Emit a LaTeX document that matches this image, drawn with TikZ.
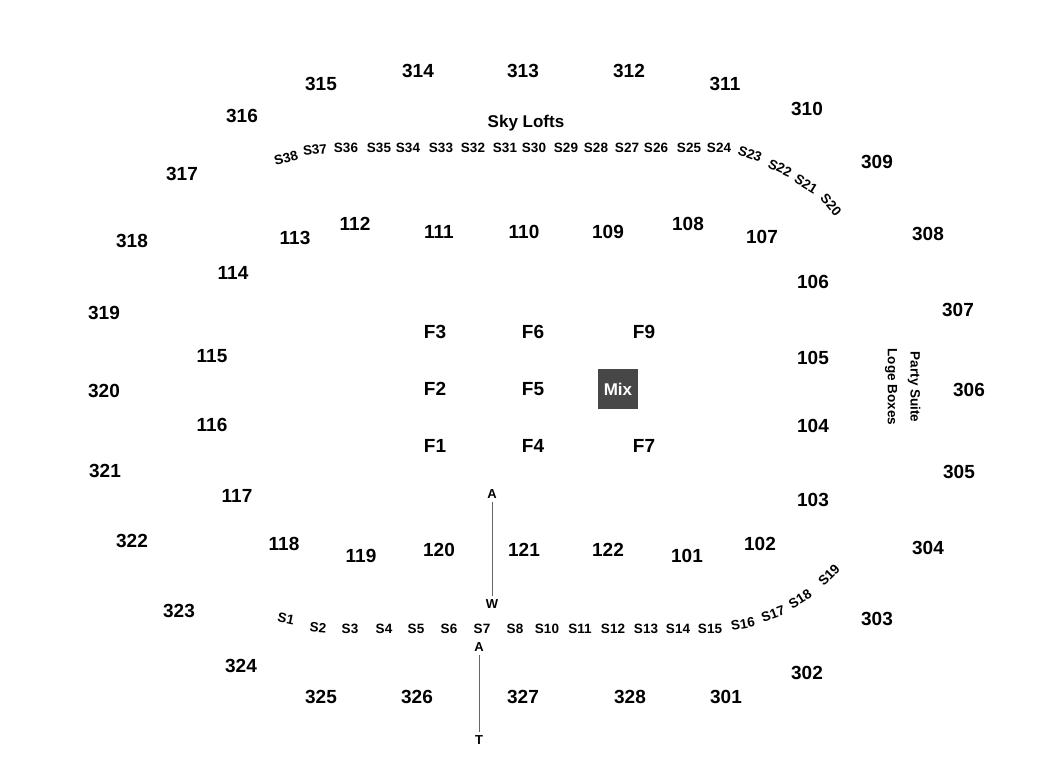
\documentclass[tikz,border=0pt]{standalone}
\usepackage{fontspec}
\setmainfont{Liberation Sans}
\usepackage{tikz}

\begin{document}
\begin{tikzpicture}
	[%
	x=1pt, y=-1pt,%
	sec/.style  ={font=\fontsize{19}{19}\selectfont\bfseries,	inner sep=0pt},%
	field/.style={font=\fontsize{19}{19}\selectfont\bfseries,	inner sep=0pt},%
	loft/.style ={font=\fontsize{13.5}{13.5}\selectfont\bfseries,	inner sep=0pt},%
	tag/.style  ={font=\fontsize{13}{13}\selectfont\bfseries,	inner sep=3pt},%
	mix/.style  ={rectangle,	fill=black!72,	text=white,	minimum size=40pt,	inner sep=0pt,	font=\fontsize{17}{17}\selectfont\bfseries},%
	aisle/.style={draw=black!60,	line width=0.8pt},%
	]

	\useasboundingbox (0,0) rectangle (1050,782);

	% upper ring
	\foreach \n/\x/\y in {315/321/84, 314/418/71, 313/523/71, 312/629/71, 311/725/84, 310/807/109, 309/877/162, 308/928/234, 307/958/310, 306/969/390, 305/959/472, 304/928/548, 303/877/619, 302/807/673, 301/726/697, 328/630/697, 327/523/697, 326/417/697, 325/321/697, 324/241/666, 323/179/611, 322/132/541, 321/105/471, 320/104/391, 319/104/313, 318/132/241, 317/182/174, 316/242/116}
		\node (s\n) at (\x,\y) [sec] {\n};

	% lower ring
	\foreach \n/\x/\y in {113/295/238, 112/355/224, 111/439/232, 110/524/232, 109/608/232, 108/688/224, 107/762/237, 106/813/282, 105/813/358, 104/813/426, 103/813/500, 102/760/544, 101/687/556, 122/608/550, 121/524/550, 120/439/550, 119/361/556, 118/284/544, 117/237/496, 116/212/425, 115/212/356, 114/233/273}
		\node (s\n) at (\x,\y) [sec] {\n};

	% floor
	\foreach \n/\x/\y in {3/435/332, 6/533/332, 9/644/332, 2/435/389, 5/533/389, 1/435/446, 4/533/446, 7/644/446}
		\node (f\n) at (\x,\y) [field] {F\n};
	\node (mix) at (618,389) [mix] {Mix};

	% sky lofts
	\node (lofts) at (526,123) [font=\fontsize{17}{17}\selectfont\bfseries, inner sep=0pt] {Sky Lofts};
	\foreach \n/\x/\y/\r in {38/286/158/15, 37/315/150/6, 36/346/148/0, 35/379/148/0, 34/408/148/0, 33/441/148/0, 32/473/148/0, 31/505/148/0, 30/534/148/0, 29/566/148/0, 28/596/148/0, 27/627/148/0, 26/656/148/0, 25/689/148/0, 24/719/148/0, 23/750/154/-20, 22/780/168/-25, 21/806/184/-32, 20/831/205/-50}
		\node (l\n) at (\x,\y) [loft, rotate=\r] {S\n};
	\foreach \n/\x/\y/\r in {1/286/619/-12, 2/318/628/-5, 3/350/629/0, 4/384/629/0, 5/416/629/0, 6/449/629/0, 7/482/629/0, 8/515/629/0, 10/547/629/0, 11/580/629/0, 12/613/629/0, 13/646/629/0, 14/678/629/0, 15/710/629/0, 16/743/624/10, 17/773/614/20, 18/800/599/32, 19/829/575/45}
		\node (l\n) at (\x,\y) [loft, rotate=\r] {S\n};

	% loge boxes
	\node (party) at (914,387) [loft, rotate=-90] {Party Suite};
	\node (loge)  at (891,387) [loft, rotate=-90] {Loge Boxes};

	% aisles
	\node (aw-a) at (492,494) [tag] {A};
	\node (aw-w) at (492,604) [tag] {W};
	\node (at-a) at (479,647) [tag] {A};
	\node (at-t) at (479,740) [tag] {T};
	\draw [aisle] (aw-a) -- (aw-w);
	\draw [aisle] (at-a) -- (at-t);

\end{tikzpicture}
\end{document}
